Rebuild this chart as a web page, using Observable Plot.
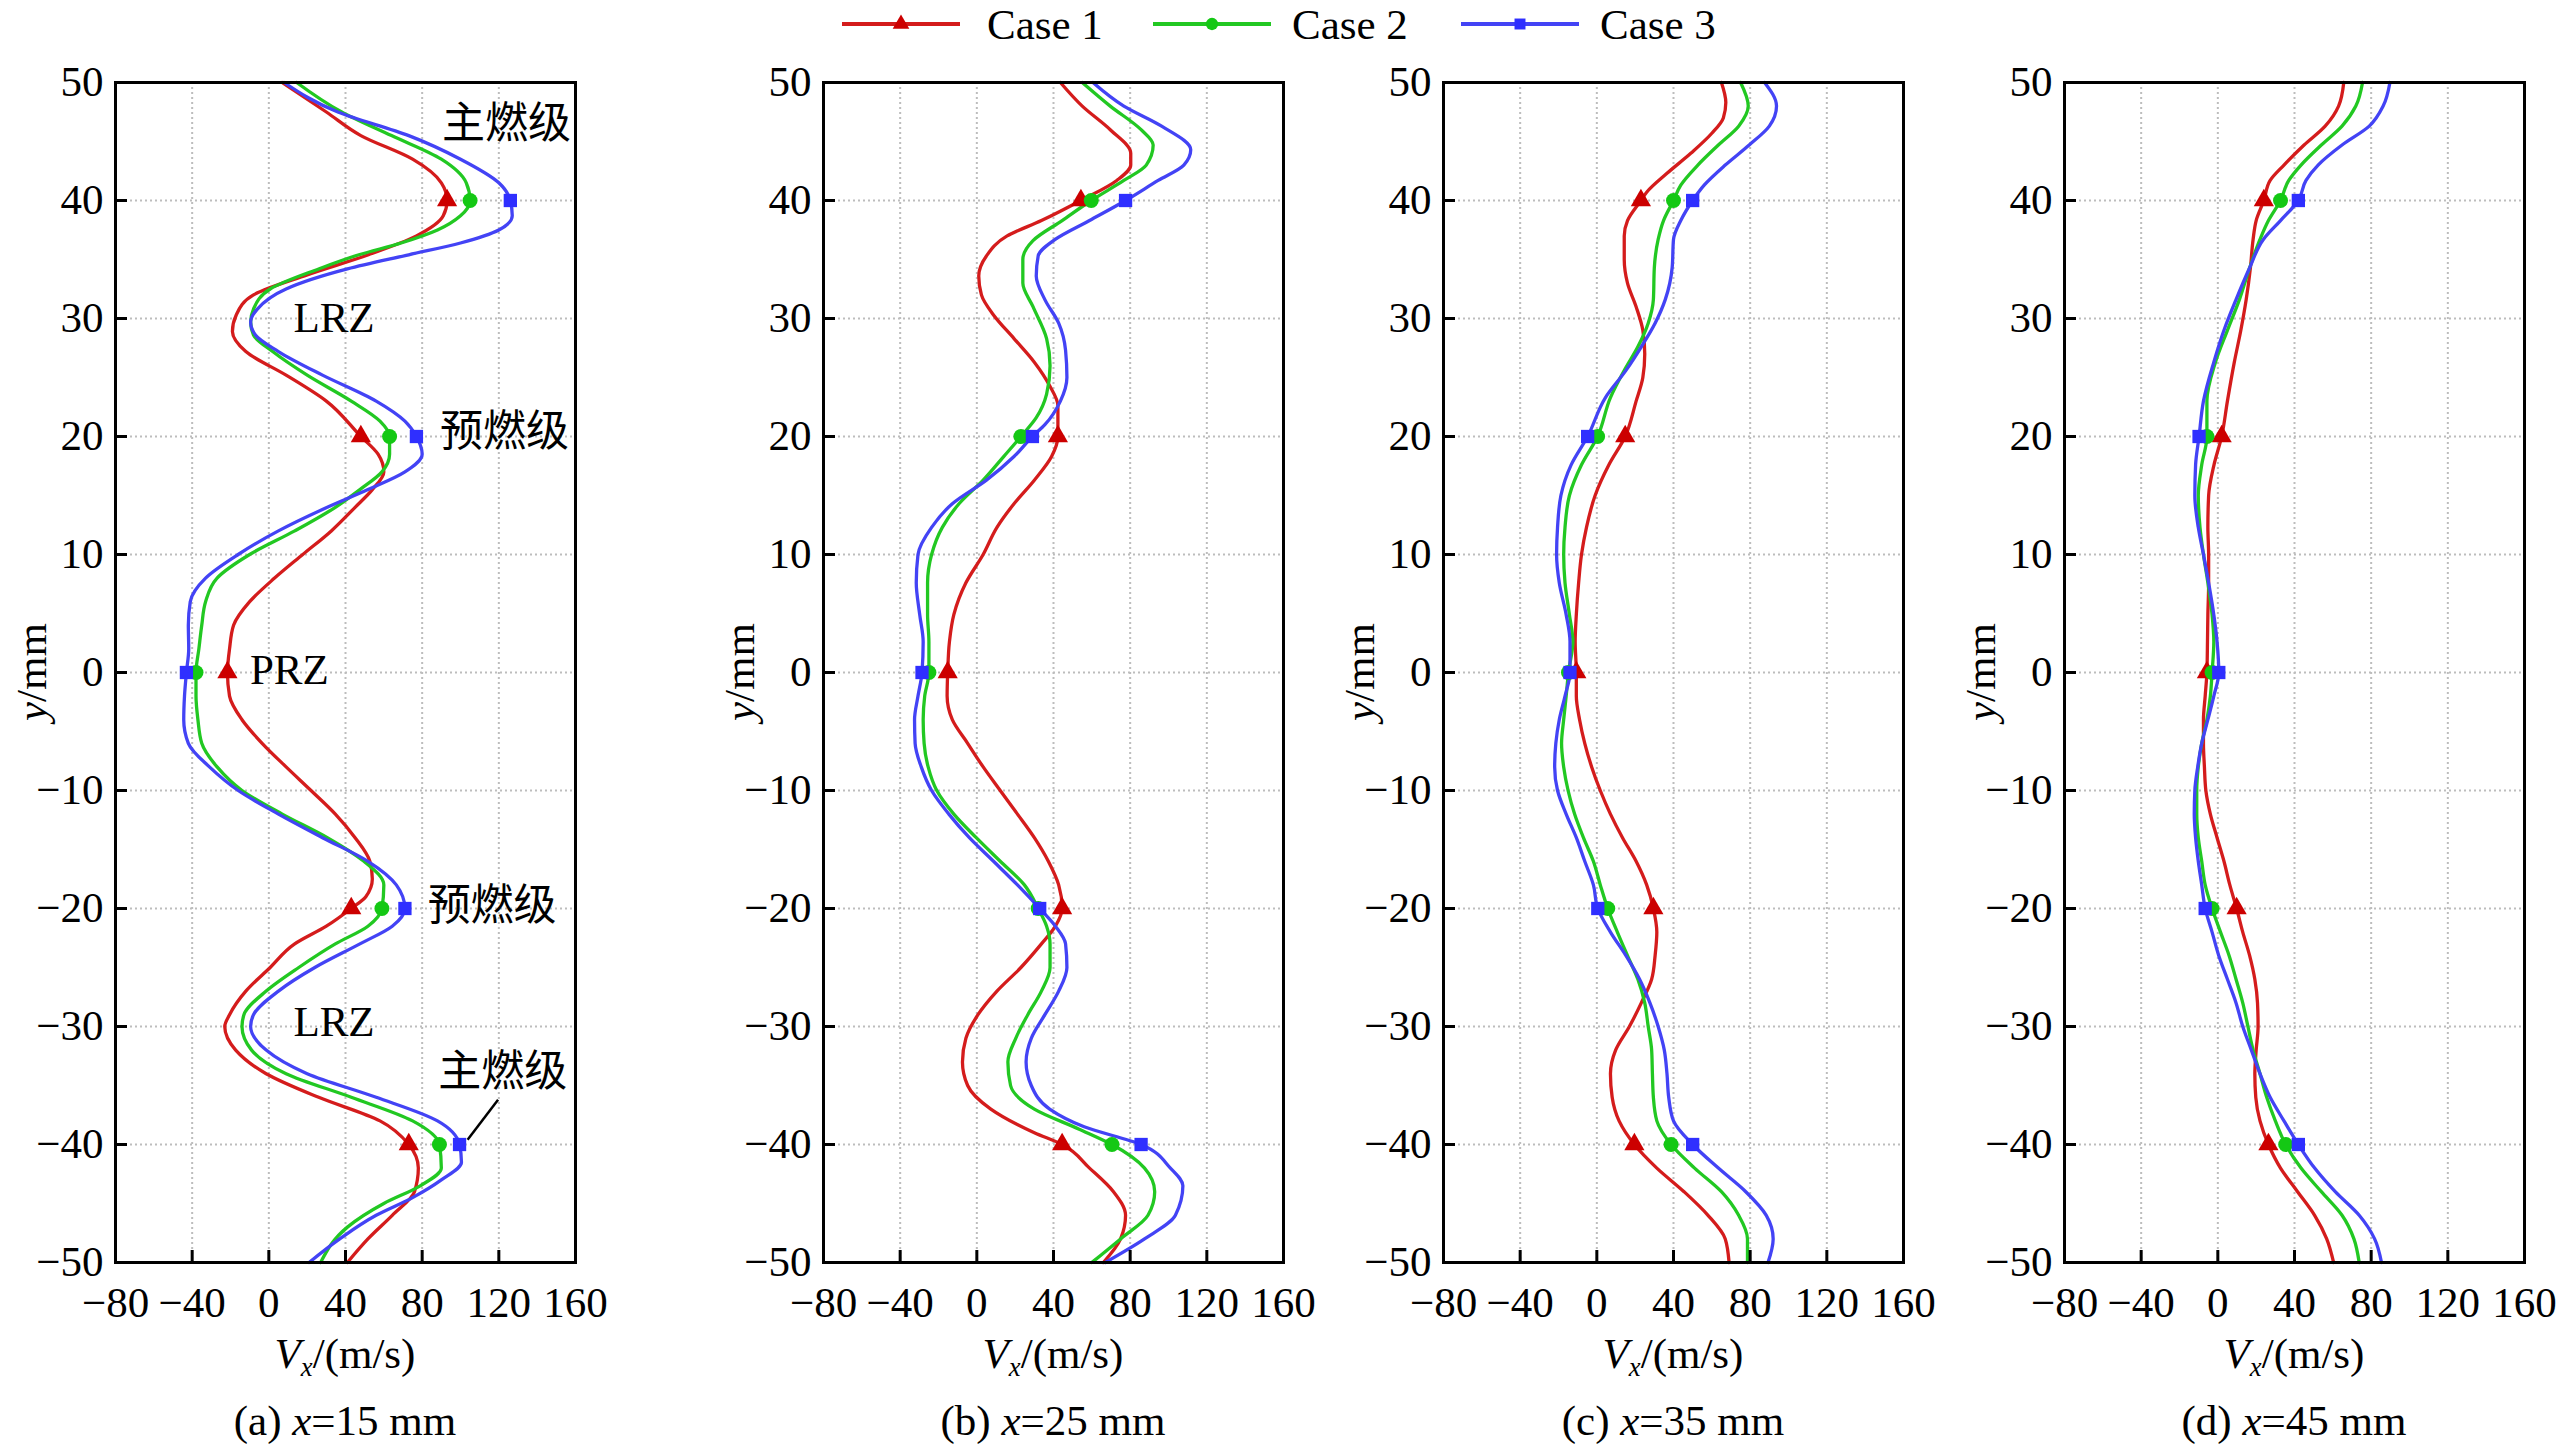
<!DOCTYPE html>
<html>
<head>
<meta charset="utf-8">
<script src="https://cdn.jsdelivr.net/npm/d3@7"></script>
<script src="https://cdn.jsdelivr.net/npm/@observablehq/plot@0.6"></script>
<style>
  body { margin: 0; background: #fff; }
  #root { position: relative; width: 2566px; height: 1448px; overflow: hidden; background: #fff;
          font-family: "Liberation Serif", "Times New Roman", "Noto Sans CJK SC", serif; color: #000; }
  .abs { position: absolute; white-space: nowrap; font-size: 43px; line-height: 43px; }
  .ctr { transform: translate(-50%, 0); }
  .sub { font-size: 0.62em; position: relative; top: 0.3em; }
  #root svg text { font-family: "Liberation Serif", "Times New Roman", "Noto Sans CJK SC", serif; }
</style>
</head>
<body>
<div id="root"></div>
<script>
// ---------- data ----------
const cases = ["Case 1", "Case 2", "Case 3"];
const xTicks = [-80, -40, 0, 40, 80, 120, 160];
const yTicks = [-50, -40, -30, -20, -10, 0, 10, 20, 30, 40, 50];
const markerYs = [40, 20, 0, -20, -40];
const captionLetters = ["(a)", "(b)", "(c)", "(d)"];
const captionX = [15, 25, 35, 45];

// [y (mm), Vx (m/s)]
const a_case1 = [[50,7],[47.5,30],[45.5,48],[43.5,75],[41.5,90],[40,93],[38.7,91],[37,77],[35.4,52],[33.7,20],[32,-8],[30.3,-17],[28.9,-19],[27.2,-12],[25.2,9],[23,30],[20,48],[18.5,57],[17,60],[15.5,54],[14,45],[12,32.6],[10,17.7],[8,3],[6,-10],[4,-18.4],[2,-20.5],[0,-21.6],[-2,-20.5],[-4,-14],[-6,-3.5],[-8,9],[-10,22],[-12,34.7],[-14,45],[-16,52.7],[-17.5,54],[-19,50.6],[-20,43],[-21.5,30],[-23,13.5],[-25,0.7],[-27,-12],[-29,-20.5],[-30,-23],[-32,-17.3],[-34,-1.4],[-36,26],[-38,58],[-40,73],[-42,78],[-44,76],[-46,64.4],[-48,51.7],[-50,41]];
const a_case2 = [[50,14.5],[47.5,38],[45.5,64],[43.5,90],[41.5,103],[40,105],[38.7,100],[37.5,88],[36.4,69],[35.4,47],[34.2,26],[32.5,0.7],[30.8,-8],[29.7,-9.5],[28.6,-8],[27.2,2],[25.2,20],[23,43],[21.3,58],[20,63],[18.5,63],[17,59],[15.5,47.5],[14,34.7],[12,13.5],[10,-10],[8,-27],[6,-33],[4,-35],[2,-36.5],[0,-38],[-2,-38],[-4,-37],[-6,-35],[-8,-27],[-10,-14],[-12,7],[-14,30.5],[-16,49.6],[-18,60],[-20,59],[-21.5,51.7],[-23,34.7],[-25,15.6],[-27,-1.4],[-29,-13],[-30,-14],[-32,-9],[-34,9],[-36,43],[-38,75],[-40,89],[-42,90],[-43.5,79],[-45,60],[-47,41],[-50,27]];
const a_case3 = [[50,8],[47.5,36],[45.5,73],[43.5,100],[41.5,120],[40,126],[38.7,127],[37.5,120],[36.4,100],[35.4,73],[34.2,41],[32.5,9],[30.8,-6],[29.7,-9.5],[28.6,-7],[27.2,5],[25.2,28],[23,56],[21.3,71],[20,77],[18.5,80],[17,71],[15.5,51.7],[14,30.5],[12,5],[10,-16],[8,-33],[6,-41],[4,-42],[2,-41.8],[0,-43],[-2,-44],[-4,-44.4],[-6,-42],[-8,-31],[-10,-16],[-12,5],[-14,28],[-16,51.7],[-18,66.5],[-20,71],[-21.5,64.4],[-23,47.5],[-25,24],[-27,5],[-29,-8],[-30,-9.5],[-32,-1.4],[-34,20],[-36,56],[-38,88],[-40,99.5],[-41.5,100.5],[-43,90],[-44.5,75],[-46,56],[-48,37],[-50,21]];

const b_case1 = [[50,43.6],[48,55],[46,69.6],[44,80.3],[43,80.3],[41.7,73],[40,54.3],[38.3,33.7],[37,15.8],[35.3,5],[33.6,1],[32,2.4],[30.3,8.7],[28.3,19.4],[26.3,30],[24.3,38],[22.6,42.3],[20,42.3],[18.3,39],[16.3,30],[14.3,19.4],[12.3,10.5],[10,3.3],[7.6,-5.7],[4.9,-12],[2.6,-14.3],[0,-15.2],[-2,-15.5],[-4,-12.8],[-6,-4.8],[-8,3.3],[-10,12.2],[-12,21.2],[-14,30],[-16,37.3],[-18,42.7],[-20,44.5],[-21.5,41],[-23,33.7],[-25,23],[-27,10.5],[-29,0.6],[-31,-5.7],[-33,-7.5],[-35,-4.8],[-37,7.3],[-39,30],[-40,44.5],[-42,58.8],[-44,71.3],[-46,77.6],[-48,75],[-50,66]];
const b_case2 = [[50,55],[48,69.6],[46,85.7],[44.7,92],[43,88.4],[41.7,76.7],[40,59.7],[38.3,44.5],[36.6,29.3],[35,24],[33,24],[31,29.3],[28.3,36.4],[26,38.2],[23.6,36.4],[21.6,31],[20,23],[18.3,14],[16.3,3.3],[14.3,-9.3],[12.3,-18],[10,-23.6],[7.6,-25.7],[4.9,-25.7],[2.6,-25],[0,-25],[-2,-27.2],[-4,-28],[-6,-27.5],[-8,-25.4],[-10,-20.9],[-12,-12],[-14,-0.3],[-16,12.2],[-18,24.8],[-20,32],[-21.5,36.4],[-23,38.2],[-25,38.2],[-27,33.7],[-29,26.6],[-31,20.3],[-33,16.2],[-35,17.6],[-37,30],[-38.7,53.4],[-40,70.5],[-42,87.5],[-44,92.8],[-46,89.3],[-48,75],[-50,60]];
const b_case3 = [[50,60.6],[48,76.7],[46.3,96.4],[44.3,111.6],[43,108],[41.7,94.6],[40,77.6],[38.3,58.8],[36.7,40.9],[35.3,32],[33.6,31],[31.6,35.5],[29.6,42.7],[27.3,46.3],[25,47],[23,43.6],[21,35.5],[20,29],[18.3,19.4],[16.3,5],[14.3,-12.8],[12.3,-23.6],[10,-30.7],[7.6,-31.6],[4.9,-29.8],[2.6,-28],[0,-28.6],[-2,-30.7],[-4,-32.5],[-6,-32.2],[-8,-29],[-10,-23.6],[-12,-14.6],[-14,-3.9],[-16,8.7],[-18,21.2],[-20,32.8],[-21.5,41],[-23,46.3],[-25,47],[-27,42.7],[-29,35.5],[-31,28.4],[-33,25.7],[-35,28.4],[-37,38],[-38.5,56],[-40,85.7],[-42,101],[-43.5,107.5],[-46,103.6],[-48,87.5],[-50,67]];

const c_case1 = [[50,65],[48.3,67.3],[47,66],[45.7,60],[44,49],[42.3,36.6],[40.7,26],[40,23],[38.3,16],[37,14.3],[35,14.3],[33,16],[31,20.5],[29,24],[27,25],[25,24],[23,20.5],[20,14.8],[17.6,6.3],[15,-0.9],[12.3,-5.4],[10,-8],[7.6,-9.5],[4.9,-10.7],[2.6,-11.3],[0,-10.7],[-2,-10.7],[-4,-9],[-6,-6.3],[-8,-2.7],[-10,1.8],[-12,7.1],[-14,13.4],[-16,20.5],[-18,26],[-20,29.5],[-22,31.3],[-24,30.4],[-26,28.6],[-28,23.2],[-30,17],[-32,9.8],[-34,7.1],[-36,8],[-38,11.6],[-40,19.6],[-42,31.3],[-44,45.5],[-46,58],[-48,67],[-50,69]];
const c_case2 = [[50,75],[48,79],[46.3,74],[44.7,63.4],[43,52.7],[41.3,43.8],[40,40],[38.3,34.8],[36.7,32],[34.3,30],[31.6,29.5],[29.6,26.8],[27.6,21.4],[25.6,14.3],[23.3,7.1],[20,0.4],[17.6,-8],[15,-14.3],[12.3,-16.6],[10,-17.3],[7.6,-16.6],[4.9,-14.3],[2.6,-12.5],[0,-14.8],[-2,-16],[-4,-17.3],[-6,-18.4],[-8,-17.3],[-10,-15],[-12,-11.6],[-14,-7],[-16,-1.8],[-18,1.8],[-20,5.7],[-22,10.7],[-24,16],[-26,21.4],[-28,25],[-30,26.8],[-32,28.6],[-34,29],[-36,29.5],[-38,31.3],[-40,38.75],[-42,51],[-44,65],[-46,74],[-48,78.6],[-50,78.6]];
const c_case3 = [[50,87.5],[48,93.75],[46.3,90],[44.7,79.5],[43,67],[41.3,56],[40,50],[38.3,43.8],[36.7,40],[34.3,39.3],[31.6,35.7],[29.6,30.4],[27.6,23.2],[25.6,15.2],[23.3,4.5],[20,-4.8],[17.6,-13.4],[15,-18.75],[12.3,-20.5],[10,-21],[7.6,-19.6],[4.9,-16],[2.6,-14],[0,-14],[-2,-16.6],[-4,-19.6],[-6,-21.4],[-8,-22],[-10,-20.5],[-12,-16],[-14,-10.7],[-16,-6.3],[-18,-1.8],[-20,0.5],[-22,7.1],[-24,15.2],[-26,22.3],[-28,27.7],[-30,32],[-32,35.2],[-34,36.6],[-36,37.5],[-38,40],[-40,50],[-42,63.4],[-44,77.7],[-46,88.4],[-48,92],[-50,89.3]];

const d_case1 = [[50,65.7],[48,63],[46.3,56],[44.7,45],[43,34.5],[41.7,27.3],[40,24],[38.3,20],[36.7,18.4],[34.3,17],[31.6,14.8],[29,12],[26.3,8.6],[23,5],[20,2],[17.6,-2],[15,-4.8],[12.3,-5.2],[10,-4.8],[7.6,-4.8],[4.9,-5.2],[2.6,-5.4],[0,-5.7],[-2,-6.6],[-4,-7.5],[-6,-7.5],[-8,-7],[-10,-6.25],[-12,-3.9],[-14,-0.4],[-16,3.2],[-18,6.25],[-20,9.8],[-22,13],[-24,16.6],[-26,19.3],[-28,20.7],[-30,21],[-32,20],[-34,19.3],[-36,19.8],[-38,22],[-40,26.4],[-42,32.7],[-44,41.6],[-46,50.5],[-48,56.8],[-50,60.4]];
const d_case2 = [[50,75.5],[48,72],[46.3,64.8],[44.7,54],[43,43.4],[41.7,37],[40,32.7],[38.3,26.4],[36.7,22],[34.3,16.6],[31.6,11.25],[29,5],[26.3,-1.25],[23,-5.7],[20,-5.7],[17.6,-8.4],[15,-10.2],[12.3,-9.3],[10,-7.5],[7.6,-5.2],[4.9,-3],[2.6,-2.1],[0,-3],[-2,-3.9],[-4,-5.7],[-6,-8.4],[-8,-10.2],[-10,-11],[-12,-11],[-14,-10.2],[-16,-8.4],[-18,-6.6],[-20,-3],[-22,1.4],[-24,5.9],[-26,9.5],[-28,13],[-30,15.7],[-32,18.4],[-34,22],[-36,25.5],[-38,30],[-40,35.4],[-42,43.4],[-44,54],[-46,64.8],[-48,71],[-50,73.75]];
const d_case3 = [[50,89.8],[48,86.25],[46.3,79],[44.7,64.8],[43,52.3],[41.7,46],[40,42],[38.3,32.7],[36.7,23.75],[34.3,16.6],[31.6,9.5],[29,3.2],[26.3,-2.1],[23,-7.5],[20,-9.8],[17.6,-11.6],[15,-12],[12.3,-10.2],[10,-7.5],[7.6,-4.8],[4.9,-2.1],[2.6,-0.4],[0,0.5],[-2,-2.1],[-4,-5.2],[-6,-8.4],[-8,-10.5],[-10,-12],[-12,-12.3],[-14,-11.6],[-16,-10.2],[-18,-8.4],[-20,-6.6],[-22,-3],[-24,0.5],[-26,5],[-28,9.5],[-30,13],[-32,17.5],[-34,22],[-36,27.3],[-38,34.5],[-40,42],[-42,50.5],[-44,61.25],[-46,73.75],[-48,81.8],[-50,85.4]];

// annotations in panel (a)
const annoText = ["主燃级", "LRZ", "预燃级", "PRZ", "预燃级", "LRZ", "主燃级"];
const annoVx   = [124, 34, 123, 10.7, 116.5, 34, 122];
const annoY    = [46.5, 30, 20.4, 0.2, -19.8, -29.6, -33.9];
const leaderVx = [119.6, 103.7];
const leaderY  = [-36.2, -39.6];

// ---------- style ----------
const lineColors = ["#d41c1c", "#22c822", "#4343f5"];
const markColors = ["#cc0000", "#14c814", "#2f2fff"];
const symbolNames = ["triangle", "circle", "square"];
const FONT = '"Liberation Serif", "Times New Roman", "Noto Sans CJK SC", serif';
const FRAME_W = 460, FRAME_H = 1180, FRAME_TOP = 82;
const panelLeft = [115, 823, 1443, 2064];
const ML = 110, MR = 50, MT = 20, MB = 80;

const fmt = d => d < 0 ? "\u2212" + (-d) : String(d);
const root = document.getElementById("root");

function buildPanel(series, withAnno) {
  const rows = series.flatMap((s, i) =>
    s.map(([y, v]) => ({y, v, c: cases[i]})).sort((p, q) => p.y - q.y));
  const markers = rows.filter(d => markerYs.includes(d.y));
  const marks = [
    Plot.gridX(xTicks.slice(1, -1), {stroke: "#bdbdbd", strokeOpacity: 1, strokeWidth: 2, strokeDasharray: "2,3"}),
    Plot.gridY(yTicks.slice(1, -1), {stroke: "#bdbdbd", strokeOpacity: 1, strokeWidth: 2, strokeDasharray: "2,3"}),
    Plot.line(rows, {x: "v", y: "y", z: "c", stroke: "c", strokeWidth: 3.3, curve: "monotone-y"}),
    Plot.dot(markers, {x: "v", y: "y", symbol: "c", fill: d => markColors[cases.indexOf(d.c)], stroke: "none", r: 7.5})
  ];
  if (withAnno) {
    const anno = annoText.map((t, i) => ({t, v: annoVx[i], y: annoY[i]}));
    marks.push(Plot.text(anno, {x: "v", y: "y", text: "t", fill: "black", fontSize: 43, fontFamily: FONT, textAnchor: "middle", lineAnchor: "middle"}));
    marks.push(Plot.link([0], {x1: leaderVx[0], y1: leaderY[0], x2: leaderVx[1], y2: leaderY[1], stroke: "black", strokeWidth: 2.5}));
  }
  marks.push(
    Plot.frame({stroke: "black", strokeWidth: 3}),
    Plot.axisX(xTicks, {tickSize: -12, tickPadding: 36, strokeWidth: 3, tickFormat: fmt, label: null, fontSize: 43, fontFamily: FONT, fontVariant: "normal"}),
    Plot.axisY(yTicks, {tickSize: -12, tickPadding: 24, strokeWidth: 3, tickFormat: fmt, label: null, fontSize: 43, fontFamily: FONT, fontVariant: "normal"})
  );
  const svg = Plot.plot({
    width: ML + FRAME_W + MR, height: MT + FRAME_H + MB,
    marginLeft: ML, marginRight: MR, marginTop: MT, marginBottom: MB,
    x: {domain: [-80, 160], label: null},
    y: {domain: [-50, 50], label: null},
    color: {domain: cases, range: lineColors},
    symbol: {domain: cases, range: symbolNames},
    style: {fontFamily: FONT, fontSize: "43px", background: "transparent", overflow: "visible", maxWidth: "none", color: "black"},
    marks
  });
  svg.setAttribute("font-family", FONT);
  svg.style.fontFamily = FONT;
  return svg;
}

const panels = [
  [a_case1, a_case2, a_case3],
  [b_case1, b_case2, b_case3],
  [c_case1, c_case2, c_case3],
  [d_case1, d_case2, d_case3]
];

panels.forEach((series, i) => {
  const holder = document.createElement("div");
  holder.style.position = "absolute";
  holder.style.left = (panelLeft[i] - ML) + "px";
  holder.style.top = (FRAME_TOP - MT) + "px";
  holder.appendChild(buildPanel(series, i === 0));
  root.appendChild(holder);

  const cx = panelLeft[i] + FRAME_W / 2;
  // y label
  const yl = document.createElement("div");
  yl.className = "abs";
  yl.style.left = (panelLeft[i] - 84) + "px";
  yl.style.top = (FRAME_TOP + FRAME_H / 2) + "px";
  yl.style.transform = "translate(-50%, -50%) rotate(-90deg)";
  yl.innerHTML = "<i>y</i>/mm";
  root.appendChild(yl);
  // x label
  const xl = document.createElement("div");
  xl.className = "abs ctr";
  xl.style.left = cx + "px";
  xl.style.top = "1332px";
  xl.innerHTML = '<i>V</i><span class="sub"><i>x</i></span>/(m/s)';
  root.appendChild(xl);
  // caption
  const cap = document.createElement("div");
  cap.className = "abs ctr";
  cap.style.left = cx + "px";
  cap.style.top = "1399px";
  cap.innerHTML = captionLetters[i] + " <i>x</i>=" + captionX[i] + " mm";
  root.appendChild(cap);
});

// legend
const legLineX = [842, 1153, 1461];
const legTextX = [987, 1292, 1600];
cases.forEach((name, i) => {
  const svg = d3.create("svg")
    .attr("width", 120).attr("height", 30)
    .style("position", "absolute").style("left", legLineX[i] + "px").style("top", "10px");
  svg.append("line").attr("x1", 0).attr("x2", 118).attr("y1", 14).attr("y2", 14)
    .attr("stroke", lineColors[i]).attr("stroke-width", 4);
  const sym = [d3.symbolTriangle, d3.symbolCircle, d3.symbolSquare][i];
  svg.append("path").attr("d", d3.symbol(sym, 120)()).attr("transform", "translate(59,14)")
    .attr("fill", markColors[i]);
  root.appendChild(svg.node());
  const t = document.createElement("div");
  t.className = "abs";
  t.style.left = legTextX[i] + "px";
  t.style.top = "3px";
  t.textContent = name;
  root.appendChild(t);
});
</script>
</body>
</html>
